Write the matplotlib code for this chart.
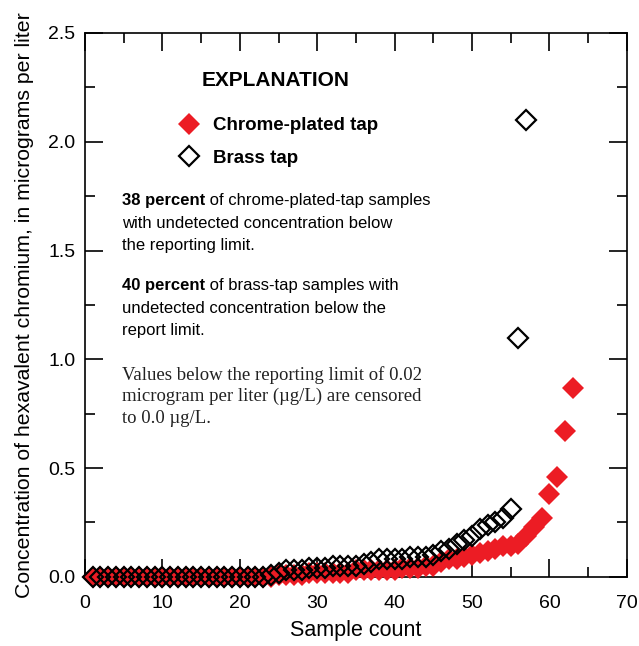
import numpy as np
from matplotlib import pyplot as plt
from matplotlib.ticker import MultipleLocator
from matplotlib.lines import Line2D

# Valores (amostras ordenadas)
chrome = [0.0] * 24 + [
    0.01, 0.01, 0.01, 0.01, 0.02, 0.02, 0.02, 0.02, 0.02, 0.02,
    0.03, 0.03, 0.03, 0.03, 0.03, 0.03, 0.04, 0.04, 0.04, 0.05,
    0.05, 0.07, 0.08, 0.08, 0.09, 0.10, 0.11, 0.12, 0.13, 0.14,
    0.14, 0.15, 0.19, 0.23, 0.27, 0.38, 0.46, 0.67, 0.87]
brass = [0.0] * 23 + [
    0.01, 0.02, 0.03, 0.03, 0.03, 0.04, 0.04, 0.04, 0.05, 0.05,
    0.05, 0.05, 0.06, 0.07, 0.08, 0.08, 0.08, 0.08, 0.09, 0.09,
    0.09, 0.10, 0.12, 0.13, 0.15, 0.17, 0.19, 0.22, 0.24, 0.25,
    0.27, 0.31, 1.10, 2.10]

x_chrome = np.arange(1, len(chrome) + 1)
x_brass = np.arange(1, len(brass) + 1)

vermelho = '#ec1c24'
plt.rcParams['font.family'] = ['Liberation Sans', 'DejaVu Sans']

fig = plt.figure(figsize=(6.39, 6.46), dpi=100)
ax = fig.add_axes([0.133, 0.107, 0.848, 0.842])

ax.plot(x_chrome, chrome, 'D', color=vermelho, ms=11, mew=0, clip_on=False, zorder=3)
ax.plot(x_brass, brass, 'D', mfc='none', mec='black', ms=10, mew=1.6, clip_on=False, zorder=4)

ax.set_xlim(0, 70)
ax.set_ylim(0, 2.5)
ax.xaxis.set_major_locator(MultipleLocator(10))
ax.xaxis.set_minor_locator(MultipleLocator(5))
ax.yaxis.set_major_locator(MultipleLocator(0.5))
ax.yaxis.set_minor_locator(MultipleLocator(0.25))
ax.yaxis.set_major_formatter(plt.FuncFormatter(lambda v, p: '{:.1f}'.format(v)))
ax.tick_params(which='both', direction='in', top=True, right=True, width=1.2, labelsize=14)
ax.tick_params(which='major', length=13, pad=7)
ax.tick_params(which='minor', length=7)
ax.tick_params(axis='x', which='major', pad=13)
for s in ax.spines.values():
    s.set_linewidth(1.2)

ax.set_xlabel('Sample count', fontsize=15.5, labelpad=6)
ax.set_ylabel('Concentration of hexavalent chromium, in micrograms per liter',
              fontsize=15.3, labelpad=10)

# Explicação
ax.text(0.351, 0.912, 'EXPLANATION', transform=ax.transAxes, fontsize=15,
        fontweight='bold', ha='center', va='center')
handles = [
    Line2D([], [], ls='none', marker='D', color=vermelho, ms=11, mew=0),
    Line2D([], [], ls='none', marker='D', mfc='none', mec='black', ms=10, mew=1.6),
]
ax.legend(handles, ['Chrome-plated tap', 'Brass tap'], loc='upper left',
          bbox_to_anchor=(0.14, 0.876), frameon=False,
          prop={'weight': 'bold', 'size': 13.5},
          handletextpad=0.7, labelspacing=0.8, handlelength=1.2)

def paragrafo(y, negrito, resto, linhas):
    t = ax.text(0.068, y, negrito, transform=ax.transAxes, fontsize=12,
                fontweight='bold', va='baseline')
    ax.annotate(' ' + resto, xy=(1, 0), xycoords=t, va='bottom', fontsize=12)
    for i, l in enumerate(linhas):
        ax.text(0.068, y - 0.041 * (i + 1), l, transform=ax.transAxes,
                fontsize=12, va='baseline')

paragrafo(0.683, '38 percent', 'of chrome-plated-tap samples',
          ['with undetected concentration below', 'the reporting limit.'])
paragrafo(0.527, '40 percent', 'of brass-tap samples with',
          ['undetected concentration below the', 'report limit.'])

ax.text(0.068, 0.388, 'Values below the reporting limit of 0.02\n'
        'microgram per liter (\u00b5g/L) are censored\nto 0.0 \u00b5g/L.',
        transform=ax.transAxes, fontsize=13.5, family='Liberation Serif',
        va='top', linespacing=1.33, color='#222222')

fig.savefig('out.png', dpi=100)
